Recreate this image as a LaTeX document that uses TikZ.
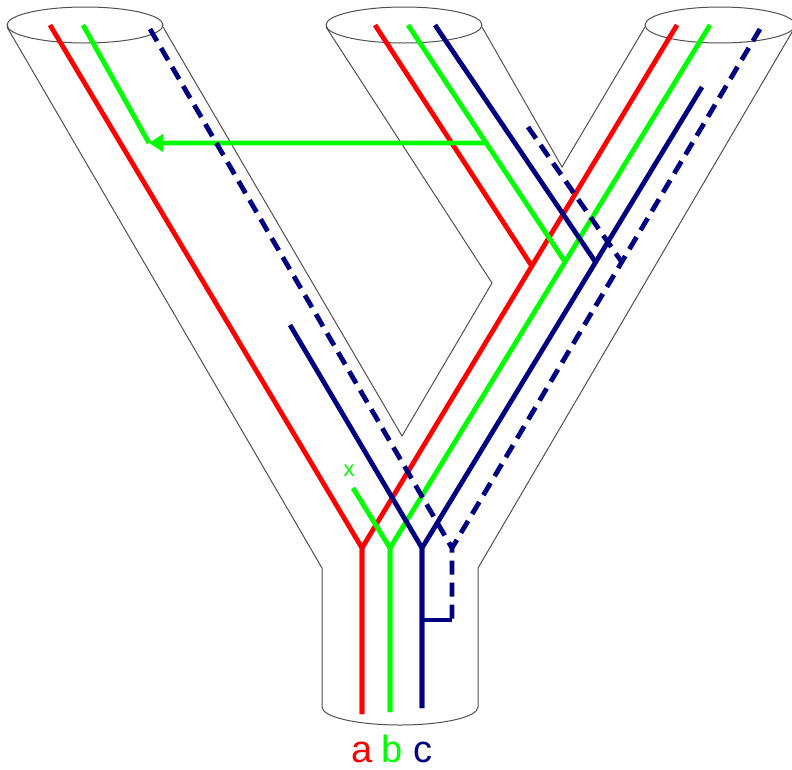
\documentclass[tikz,border=0pt]{standalone}
\usepackage{fontspec}
\newfontfamily\labelfont{Liberation Sans}
\usetikzlibrary{calc,arrows.meta}
\definecolor{navyblue}{RGB}{0,0,128}
\definecolor{tubegray}{RGB}{80,80,80}
\begin{document}
\begin{tikzpicture}[x=1pt,y=-1pt,
  tube/.style={draw=tubegray,line width=1pt,line join=miter},
  strand/.style={line width=4.8pt,line join=miter},
  hidden/.style={strand,dash pattern=on 14pt off 8pt},
  strandlabel/.style={anchor=base,font=\labelfont\fontsize{38}{38}\selectfont},
]
\useasboundingbox (0,0) rectangle (792,769);

% ---- tube outline: three open ends merging into one trunk
\draw[tube] (85,25) ellipse[x radius=78pt,y radius=18pt];
\draw[tube] (404,25) ellipse[x radius=78pt,y radius=18pt];
\draw[tube] (720,25) ellipse[x radius=75pt,y radius=18pt];
\draw[tube] (7,27) -- (322,568) -- (322,707)
  arc[start angle=180,end angle=360,x radius=78pt,y radius=18pt]
  -- (478,568) -- (795,27);
\draw[tube] (163,27) -- (402,436) -- (492,283) -- (326,27);
\draw[tube] (482,27) -- (562,167) -- (645,27);

% ---- strand end points
% a (red)
\coordinate (aL) at (50,25);
\coordinate (aR) at (677,25);
\coordinate (aM) at (375,25);
\coordinate (aJ) at (362,548);
\coordinate (aB) at (362,714);
\coordinate (aM2) at ($(aR)!0.461!(aJ)$);
% b (green)
\coordinate (bL) at (83,25);
\coordinate (bArrow) at (149,143);
\coordinate (bR) at (710,25);
\coordinate (bM) at (408,25);
\coordinate (bJ) at (390,548);
\coordinate (bB) at (390,712);
\coordinate (bS) at (353,488);
\coordinate (bM2) at ($(bR)!0.453!(bJ)$);
\coordinate (bFork) at ($(bM)!0.498!(bM2)$);
% c (navy)
\coordinate (cS) at (290,325);
\coordinate (cR) at (702,87);
\coordinate (cM) at (435,25);
\coordinate (cJ) at (422,548);
\coordinate (cB) at (422,708);
\coordinate (cM2) at ($(cR)!0.38!(cJ)$);
% hidden c (dashed navy)
\coordinate (dL) at (150,29);
\coordinate (dR) at (760,29);
\coordinate (dM) at (528,127);
\coordinate (dJ) at (452,548);
\coordinate (dK) at (452,620);
\coordinate (dM2) at ($(dR)!0.449!(dJ)$);
\coordinate (cK) at ($(cJ)!(dK)!(cB)$);

% ---- red strands
\draw[strand,red] (aL) -- (aJ) -- (aB);
\draw[strand,red] (aR) -- (aJ) -- (aB);
\draw[strand,red] (aM) -- (aM2);

% ---- green strands
\draw[strand,green] (bL) -- (bArrow);
\draw[strand,green] (bR) -- (bJ) -- (bB);
\draw[strand,green] (bS) -- (bJ) -- (bB);
\draw[strand,green] (bM) -- (bM2);
\draw[strand,green,-{Triangle[length=14pt,width=17pt]}] (bFork) -- (bArrow);
\node[text=green,font=\labelfont\fontsize{22}{22}\selectfont] (xmark) at (349,471) {x};

% ---- navy strands
\draw[strand,navyblue] (cS) -- (cJ) -- (cB);
\draw[strand,navyblue] (cR) -- (cJ) -- (cB);
\draw[strand,navyblue] (cM) -- (cM2);
\draw[strand,navyblue] (dK) -- (cK);

% ---- dashed navy strands
\draw[hidden,navyblue] (dL) -- (dJ);
\draw[hidden,navyblue] (dR) -- (dJ) -- (dK);
\draw[hidden,navyblue] (dM) -- (dM2);

% ---- strand labels
\node[strandlabel,text=red] (la) at (362,762) {a};
\node[strandlabel,text=green] (lb) at (392,762) {b};
\node[strandlabel,text=navyblue] (lc) at (423,762) {c};
\end{tikzpicture}
\end{document}
